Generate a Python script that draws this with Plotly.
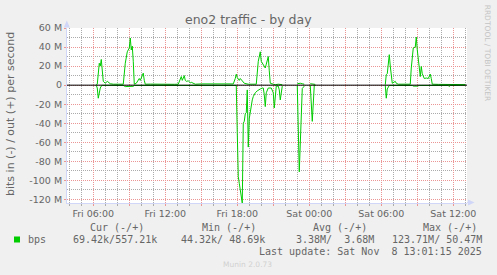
import plotly.graph_objects as go
import pandas as pd

# ---------------- data (values in Mbit/s) ----------------
out_times = [
    "2025-11-07 06:15", "2025-11-07 06:20", "2025-11-07 06:30", "2025-11-07 06:35", "2025-11-07 06:40",
    "2025-11-07 06:45", "2025-11-07 06:50", "2025-11-07 07:00", "2025-11-07 07:10", "2025-11-07 07:25",
    "2025-11-07 07:40", "2025-11-07 08:05", "2025-11-07 08:30", "2025-11-07 08:40", "2025-11-07 08:50",
    "2025-11-07 09:00", "2025-11-07 09:05", "2025-11-07 09:10", "2025-11-07 09:15", "2025-11-07 09:20",
    "2025-11-07 09:25", "2025-11-07 09:35", "2025-11-07 09:50", "2025-11-07 09:55", "2025-11-07 10:00",
    "2025-11-07 10:10", "2025-11-07 10:15", "2025-11-07 10:20", "2025-11-07 10:45", "2025-11-07 11:15",
    "2025-11-07 11:45", "2025-11-07 12:15", "2025-11-07 12:45", "2025-11-07 13:05", "2025-11-07 13:20",
    "2025-11-07 13:25", "2025-11-07 13:35", "2025-11-07 13:40", "2025-11-07 13:45", "2025-11-07 13:55",
    "2025-11-07 14:05", "2025-11-07 14:10", "2025-11-07 14:30", "2025-11-07 15:00", "2025-11-07 15:30",
    "2025-11-07 16:00", "2025-11-07 16:30", "2025-11-07 17:00", "2025-11-07 17:40", "2025-11-07 17:50",
    "2025-11-07 17:55", "2025-11-07 18:00", "2025-11-07 18:10", "2025-11-07 18:15", "2025-11-07 18:25",
    "2025-11-07 18:35", "2025-11-07 18:55", "2025-11-07 19:35", "2025-11-07 19:45", "2025-11-07 19:55",
    "2025-11-07 20:00", "2025-11-07 20:10", "2025-11-07 20:20", "2025-11-07 20:25", "2025-11-07 20:35",
    "2025-11-07 20:40", "2025-11-07 20:45", "2025-11-07 21:00", "2025-11-07 21:10", "2025-11-07 21:25",
    "2025-11-07 21:45", "2025-11-07 22:00",
    "2025-11-07 23:00", "2025-11-07 23:15", "2025-11-07 23:25", "2025-11-07 23:35", "2025-11-07 23:45",
    "2025-11-08 00:05", "2025-11-08 00:15", "2025-11-08 00:25", "2025-11-08 00:30", "2025-11-08 01:00",
    "2025-11-08 06:20", "2025-11-08 06:25", "2025-11-08 06:30", "2025-11-08 06:40", "2025-11-08 06:45",
    "2025-11-08 06:50", "2025-11-08 06:55", "2025-11-08 07:10", "2025-11-08 07:15", "2025-11-08 07:25",
    "2025-11-08 08:25", "2025-11-08 08:30", "2025-11-08 08:40", "2025-11-08 08:50", "2025-11-08 08:55",
    "2025-11-08 09:00", "2025-11-08 09:05", "2025-11-08 09:15", "2025-11-08 09:20", "2025-11-08 09:25",
    "2025-11-08 09:35", "2025-11-08 09:45", "2025-11-08 09:55", "2025-11-08 10:05", "2025-11-08 10:10",
    "2025-11-08 10:15", "2025-11-08 10:45", "2025-11-08 11:15", "2025-11-08 11:45", "2025-11-08 12:15",
    "2025-11-08 12:45", "2025-11-08 13:00",
]
out_mbps = [
    0.5, 1, 23, 20, 27,
    15, 4, 2, 4, 1.5,
    1, 1, 1, 23, 35,
    39, 49.5, 37, 41, 25,
    1, 2, 7, 5, 7,
    12.6, 5, 1, 1.1, 0.9,
    1, 1.1, 0.9, 1, 9,
    5, 10, 5, 4, 4.5,
    2.5, 3, 1, 1.3, 1.2,
    1.4, 1.2, 1.3, 1.3, 7,
    11.5, 8, 5, 7, 4,
    2, 1, 1, 25, 35,
    25, 21, 18, 22, 30,
    15, 2, 1, 0.5, 1,
    0.5, None,
    1.5, 2, 1.5, 1, None,
    1.5, 1.5, 1.5, 0.8, None,
    0.5, 11, 12, 32, 20,
    12, 2, 4, 2, 1,
    1, 18, 39, 40, 50.47,
    37, 25, 9, 19.6, 12,
    7, 7.5, 7, 11.6, 7,
    1, 0.8, 0.7, 0.8, 0.6,
    0.7, 0.557,
]

in_times = [
    "2025-11-07 06:15", "2025-11-07 06:20", "2025-11-07 06:25", "2025-11-07 06:30", "2025-11-07 06:35",
    "2025-11-07 06:40", "2025-11-07 06:45", "2025-11-07 07:30", "2025-11-07 08:30", "2025-11-07 08:40",
    "2025-11-07 09:00", "2025-11-07 09:20", "2025-11-07 09:25", "2025-11-07 12:00", "2025-11-07 15:00",
    "2025-11-07 17:55", "2025-11-07 18:00", "2025-11-07 18:05", "2025-11-07 18:10", "2025-11-07 18:15",
    "2025-11-07 18:20", "2025-11-07 18:25", "2025-11-07 18:30", "2025-11-07 18:35", "2025-11-07 18:40",
    "2025-11-07 18:45", "2025-11-07 18:50", "2025-11-07 18:55", "2025-11-07 19:00", "2025-11-07 19:05",
    "2025-11-07 19:10", "2025-11-07 19:15", "2025-11-07 19:20", "2025-11-07 19:25", "2025-11-07 19:30",
    "2025-11-07 19:40", "2025-11-07 19:45", "2025-11-07 19:55", "2025-11-07 20:05", "2025-11-07 20:10",
    "2025-11-07 20:15", "2025-11-07 20:20", "2025-11-07 20:25", "2025-11-07 20:35", "2025-11-07 20:50",
    "2025-11-07 21:00", "2025-11-07 21:05", "2025-11-07 21:10", "2025-11-07 21:15", "2025-11-07 21:25",
    "2025-11-07 21:30", "2025-11-07 21:35", "2025-11-07 21:40", "2025-11-07 21:45", "2025-11-07 22:00",
    "2025-11-07 23:00", "2025-11-07 23:10", "2025-11-07 23:25", "2025-11-07 23:30", "2025-11-07 23:35",
    "2025-11-07 23:45",
    "2025-11-08 00:05", "2025-11-08 00:15", "2025-11-08 00:25", "2025-11-08 00:30", "2025-11-08 01:00",
    "2025-11-08 06:20", "2025-11-08 06:25", "2025-11-08 06:30", "2025-11-08 06:35", "2025-11-08 06:40",
    "2025-11-08 08:35", "2025-11-08 08:40", "2025-11-08 09:00", "2025-11-08 09:10", "2025-11-08 11:35",
    "2025-11-08 11:40", "2025-11-08 11:45", "2025-11-08 13:00",
]
in_mbps = [
    0.2, 3, 13.7, 6, 3,
    1, 0.3, 0.2, 0.3, 1.5,
    1.5, 1.2, 0.3, 0.2, 0.2,
    0.3, 50, 96, 103, 110,
    117, 123.71, 40, 38, 30,
    29, 5, 65, 35, 28,
    20, 15.5, 12, 10, 8,
    6, 5, 4, 3, 3,
    10, 22.5, 8, 3, 3,
    8, 24, 8, 1, 1,
    5, 15.5, 5, 1, None,
    0.3, 91, 3.5, 2, 1,
    None,
    0.3, 38, 0.3, 0.3, None,
    0.3, 13.7, 4, 1, 0.3,
    0.3, 1, 1, 0.3, 0.3,
    1.5, 0.3, 0.0694,
]

x_tick_vals = [
    "2025-11-07 06:00", "2025-11-07 09:00", "2025-11-07 12:00", "2025-11-07 15:00",
    "2025-11-07 18:00", "2025-11-07 21:00", "2025-11-08 00:00", "2025-11-08 03:00",
    "2025-11-08 06:00", "2025-11-08 09:00", "2025-11-08 12:00",
]
x_tick_text = ["Fri 06:00", "", "Fri 12:00", "", "Fri 18:00", "", "Sat 00:00", "", "Sat 06:00", "", "Sat 12:00"]
y_tick_vals_m = [60, 40, 20, 0, -20, -40, -60, -80, -100, -120]
y_tick_text = ["60 M", "40 M", "20 M", "0", "-20 M", "-40 M", "-60 M", "-80 M", "-100 M", "-120 M"]

legend_name = "bps"
legend_headers = ["Cur (-/+)", "Min (-/+)", "Avg (-/+)", "Max (-/+)"]
legend_values = ["69.42k/557.21k", "44.32k/ 48.69k", "3.38M/  3.68M", "123.71M/ 50.47M"]
last_update = "Last update: Sat Nov  8 13:01:15 2025"

title = "eno2 traffic - by day"
y_title = "bits in (-) / out (+) per second"

x_start, x_end = "2025-11-07 03:48:40", "2025-11-08 13:08:40"
y_min, y_max = -123.71e6, 60e6

# minor grid positions (hourly / every 10 M), skipping the major ones
minor_x = [t.strftime("%Y-%m-%d %H:%M")
           for t in pd.date_range("2025-11-07 04:00", "2025-11-08 13:00", freq="1h") if t.hour % 3]
minor_y = [v * 1e6 for v in range(-110, 61, 20)]

# ---------------- style ----------------
GREEN = "#00cc00"
FONT_C = "#666666"
AXIS_C = "#cfd6f8"
MGRID = "#eb9595"
GRID = "#ababab"
DASH = "1px,1px"
W, H = 497, 275
L, R, T, B = 67, 30, 28, 72
PW, PH = W - L - R, H - T - B


def px(x):
    return (x - L) / PW


def py(y):
    return (H - B - y) / PH


def nb(s):
    return s.replace(" ", "\u00a0")


fig = go.Figure()
fig.add_trace(go.Scatter(
    x=out_times, y=[v * 1e6 if v is not None else None for v in out_mbps],
    mode="lines", line=dict(color=GREEN, width=1), connectgaps=False,
    hoverinfo="skip", showlegend=False))
fig.add_trace(go.Scatter(
    x=in_times, y=[-v * 1e6 if v is not None else None for v in in_mbps],
    mode="lines", line=dict(color=GREEN, width=1), connectgaps=False,
    hoverinfo="skip", showlegend=False))

fig.update_layout(
    width=W, height=H,
    margin=dict(l=L, r=R, t=T, b=B, pad=0),
    paper_bgcolor="#f0f0f0", plot_bgcolor="#ffffff",
    font=dict(family="DejaVu Sans", color=FONT_C, size=9.5),
    showlegend=False,
    xaxis=dict(
        type="date", range=[x_start, x_end],
        tickmode="array", tickvals=x_tick_vals, ticktext=x_tick_text,
        showgrid=True, gridcolor=MGRID, griddash=DASH, gridwidth=1,
        ticks="outside", ticklen=2, tickcolor=MGRID,
        tickfont=dict(size=9.5, color=FONT_C),
        showline=True, linecolor=AXIS_C, linewidth=1,
        zeroline=False,
        minor=dict(tickmode="array", tickvals=minor_x, showgrid=True,
                   gridcolor=GRID, griddash=DASH, gridwidth=1,
                   ticks="outside", ticklen=2, tickcolor=GRID),
        fixedrange=True,
    ),
    yaxis=dict(
        range=[y_min, y_max],
        tickmode="array", tickvals=[v * 1e6 for v in y_tick_vals_m], ticktext=y_tick_text,
        showgrid=True, gridcolor=MGRID, griddash=DASH, gridwidth=1,
        ticks="outside", ticklen=2, tickcolor=MGRID,
        tickfont=dict(size=9.5, color=FONT_C),
        showline=True, linecolor=AXIS_C, linewidth=1,
        zeroline=False,
        minor=dict(tickmode="array", tickvals=minor_y, showgrid=True,
                   gridcolor=GRID, griddash=DASH, gridwidth=1),
        fixedrange=True,
    ),
)

shapes = [
    # zero rule
    dict(type="line", xref="paper", yref="y", x0=0, x1=1, y0=0, y1=0,
         line=dict(color="#000000", width=1), layer="above"),
    # y axis arrow
    dict(type="path", xref="paper", yref="paper",
         path=f"M {px(63.8)} {py(27.5)} L {px(66.8)} {py(20.5)} L {px(69.8)} {py(27.5)} Z",
         fillcolor=AXIS_C, line=dict(width=0), layer="above"),
    # x axis extension + arrow
    dict(type="line", xref="paper", yref="paper", x0=1, x1=px(469), y0=py(202.5), y1=py(202.5),
         line=dict(color=AXIS_C, width=1)),
    dict(type="path", xref="paper", yref="paper",
         path=f"M {px(468)} {py(199.5)} L {px(474.5)} {py(202.5)} L {px(468)} {py(205.5)} Z",
         fillcolor=AXIS_C, line=dict(width=0), layer="above"),
    # legend swatch
    dict(type="rect", xref="paper", yref="paper",
         x0=px(14), x1=px(20), y0=py(242.5), y1=py(236.5),
         fillcolor=GREEN, line=dict(width=0)),
]
fig.update_layout(shapes=shapes)

ann = []
ann.append(dict(text=title, x=px(248), y=py(19), xref="paper", yref="paper",
                showarrow=False, xanchor="center", yanchor="middle",
                font=dict(family="DejaVu Sans", size=12.5, color=FONT_C)))
ann.append(dict(text=y_title, x=px(10), y=py(114), xref="paper", yref="paper",
                showarrow=False, xanchor="center", yanchor="middle", textangle=-90,
                font=dict(family="DejaVu Sans", size=11, color=FONT_C)))
ann.append(dict(text="RRDTOOL / TOBI OETIKER", x=px(488.3), y=py(53), xref="paper", yref="paper",
                showarrow=False, xanchor="center", yanchor="middle", textangle=90,
                font=dict(family="DejaVu Sans", size=7.5, color="#c4c4c4")))

MONO = "DejaVu Sans Mono"
hdr_x = [89, 201, 312.3, 422.7]
val_x = [72.7, 180.3, 295, 391.7]
for t, xx in zip(legend_headers, hdr_x):
    ann.append(dict(text=nb(t), x=px(xx - 1.5), y=py(227.5), xref="paper", yref="paper",
                    showarrow=False, xanchor="left", yanchor="middle",
                    font=dict(family=MONO, size=10, color=FONT_C)))
for t, xx in zip(legend_values, val_x):
    ann.append(dict(text=nb(t), x=px(xx - 1.5), y=py(239.5), xref="paper", yref="paper",
                    showarrow=False, xanchor="left", yanchor="middle",
                    font=dict(family=MONO, size=10, color=FONT_C)))
ann.append(dict(text=legend_name, x=px(26), y=py(239.5), xref="paper", yref="paper",
                showarrow=False, xanchor="left", yanchor="middle",
                font=dict(family=MONO, size=10, color=FONT_C)))
ann.append(dict(text=nb(last_update), x=px(483.5), y=py(251.7), xref="paper", yref="paper",
                showarrow=False, xanchor="right", yanchor="middle",
                font=dict(family=MONO, size=10, color=FONT_C)))
ann.append(dict(text="Munin 2.0.73", x=px(247.5), y=py(264), xref="paper", yref="paper",
                showarrow=False, xanchor="center", yanchor="middle",
                font=dict(family="DejaVu Sans", size=7.5, color="#d0d0d0")))
fig.update_layout(annotations=ann)

fig.write_html("out.html", config={"displayModeBar": False, "staticPlot": True})
